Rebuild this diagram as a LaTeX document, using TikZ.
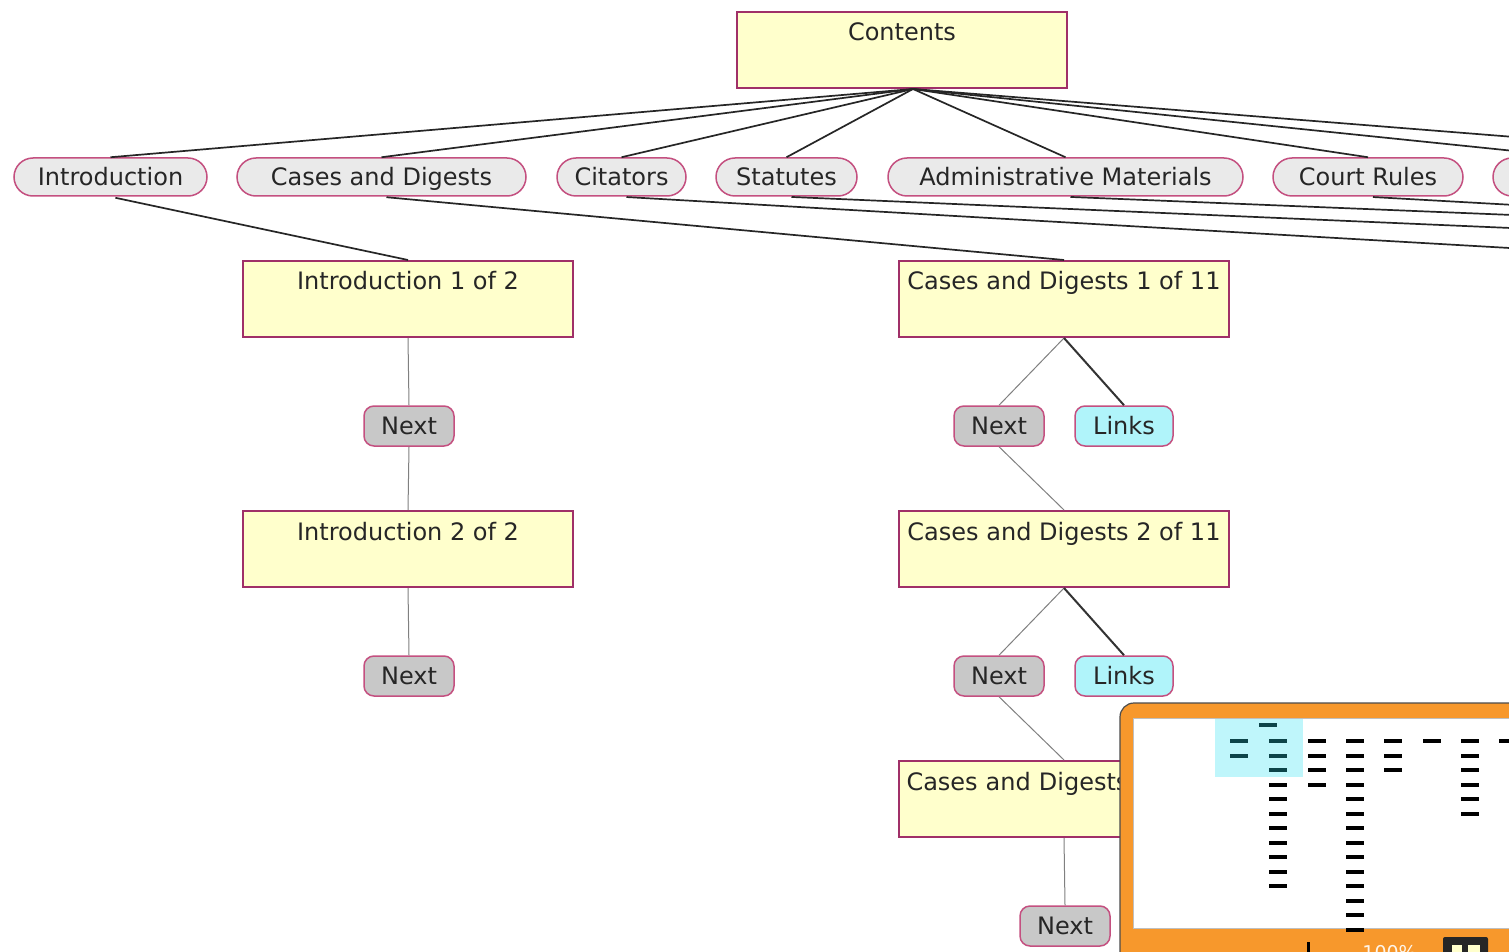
\documentclass[tikz,border=0pt]{standalone}
\usepackage{fontspec}
\setmainfont{DejaVu Sans}
\usetikzlibrary{positioning}
\tikzset{>=latex}
\usepackage{xcolor}
\definecolor{conceptfill}{RGB}{255,255,204}
\definecolor{conceptline}{RGB}{160,48,104}
\definecolor{linkline}{RGB}{196,80,128}
\definecolor{topicfill}{RGB}{234,234,234}
\definecolor{nextfill}{RGB}{200,200,200}
\definecolor{linksfill}{RGB}{176,244,250}
\definecolor{paneorange}{RGB}{247,152,44}
\definecolor{panehilite}{RGB}{45,228,245}

\begin{document}
\begin{tikzpicture}[x=0.5pt,y=-0.5pt,
  every node/.style={font=\fontsize{12}{14}\selectfont, text=black!85},
  concept/.style={draw=conceptline, line width=1pt, fill=conceptfill,
    minimum width=165pt, minimum height=38pt, inner xsep=2pt, inner ysep=5.5pt,
    text height=9pt, text depth=18pt, anchor=north west},
  topic/.style={draw=linkline, line width=0.75pt, fill=topicfill,
    rounded corners=9.5pt, minimum height=19pt, inner sep=0pt,
    text height=9pt, text depth=0.2pt},
  nextbox/.style={draw=linkline, line width=0.75pt, fill=nextfill,
    rounded corners=5pt, minimum width=45pt, minimum height=20pt, inner sep=0pt,
    text height=9pt, text depth=0.2pt},
  linksbox/.style={nextbox, fill=linksfill, minimum width=49pt},
  fan/.style={black!85, line width=0.85pt},
  nextline/.style={gray, line width=0.5pt},
  linksline/.style={black!80, line width=1pt}]
\clip (0,0) rectangle (1509,952);
\fill[white] (0,0) rectangle (1509,952);

\node[concept] (contents) at (736,11) {Contents};
\node[topic, minimum width=96.5pt] (intro) at (110.5,177) {Introduction};
\node[topic, minimum width=144.5pt] (cases) at (381.5,177) {Cases and Digests};
\node[topic, minimum width=64.5pt] (citators) at (621.5,177) {Citators};
\node[topic, minimum width=70.5pt] (statutes) at (786.5,177) {Statutes};
\node[topic, minimum width=177.5pt] (admin) at (1065.5,177) {Administrative Materials};
\node[topic, minimum width=95pt] (court) at (1368,177) {Court Rules};
\node[topic, minimum width=82pt] (more) at (1575,177) {};
\coordinate (far) at (1765,157);

\node[concept] (intro1) at (242,260) {Introduction 1 of 2};
\node[nextbox] (inext1) at (409,426) {Next};
\node[concept] (intro2) at (242,510) {Introduction 2 of 2};
\node[nextbox] (inext2) at (409,676) {Next};

\node[concept] (cases1) at (898,260) {Cases and Digests 1 of 11};
\node[nextbox] (cnext1) at (999,426) {Next};
\node[linksbox] (clinks1) at (1124,426) {Links};
\node[concept] (cases2) at (898,510) {Cases and Digests 2 of 11};
\node[nextbox] (cnext2) at (999,676) {Next};
\node[linksbox] (clinks2) at (1124,676) {Links};
\node[concept, text width=157.5pt, align=left] (cases3) at (898,760) {Cases and Digests};
\node[nextbox] (cnext3) at (1065,926) {Next};

\coordinate (hub) at ([xshift=5.5pt]contents.south);
\foreach \t in {intro,cases,citators,statutes,admin,court,more}
  \draw[fan] (hub) -- (\t.north);
\draw[fan] (hub) -- (far);

\coordinate (offcit) at (1520,248.6);
\coordinate (offsta) at (1520,228.4);
\coordinate (offadm) at (1520,215.3);
\coordinate (offcou) at (1520,205.3);
\draw[fan, shorten <=2.5pt] (intro.south) -- (intro1.north);
\draw[fan, shorten <=2.5pt] (cases.south) -- (cases1.north);
\draw[fan, shorten <=2.5pt] (citators.south) -- (offcit);
\draw[fan, shorten <=2.5pt] (statutes.south) -- (offsta);
\draw[fan, shorten <=2.5pt] (admin.south) -- (offadm);
\draw[fan, shorten <=2.5pt] (court.south) -- (offcou);

\draw[nextline] (intro1.south) -- (inext1.north);
\draw[nextline] (inext1.south) -- (intro2.north);
\draw[nextline] (intro2.south) -- (inext2.north);
\draw[nextline] (cases1.south) -- (cnext1.north);
\draw[linksline] (cases1.south) -- (clinks1.north);
\draw[nextline] (cnext1.south) -- (cases2.north);
\draw[nextline] (cases2.south) -- (cnext2.north);
\draw[linksline] (cases2.south) -- (clinks2.north);
\draw[nextline] (cnext2.south) -- (cases3.north);
\draw[nextline] (cases3.south) -- (cnext3.north);

\begin{scope}
  \draw[draw=black!70, fill=paneorange, rounded corners=7pt, line width=0.6pt]
    (1120,703) rectangle (1560,1000);
  \draw[draw=black!25, fill=white, line width=0.5pt] (1133,718) rectangle (1560,928);
  \fill (1259,723) rectangle ++(18,4);
  \foreach \x/\n in {1239/2,1278/11,1317/4,1355/14,1393/3,1432/1,1470/6,1508/1}
    \foreach \i in {1,...,\n}
      \fill ({\x-9},{739+14.5*(\i-1)}) rectangle ++(18,4);
  \fill[panehilite, opacity=0.3] (1215,719) rectangle (1303,777);
  \fill (1307,942) rectangle (1310,956);
  \node[anchor=north west, inner sep=0pt, text=white!90!paneorange,
    font=\fontsize{9.5}{11}\selectfont] (zoomlevel) at (1362,945) {100\%};
  \fill[black!85, rounded corners=1pt] (1443,937) rectangle (1488,960);
  \fill[conceptfill] (1452,945) rectangle (1462,960);
  \fill[conceptfill] (1468,945) rectangle (1480,960);
\end{scope}
\end{tikzpicture}
\end{document}
